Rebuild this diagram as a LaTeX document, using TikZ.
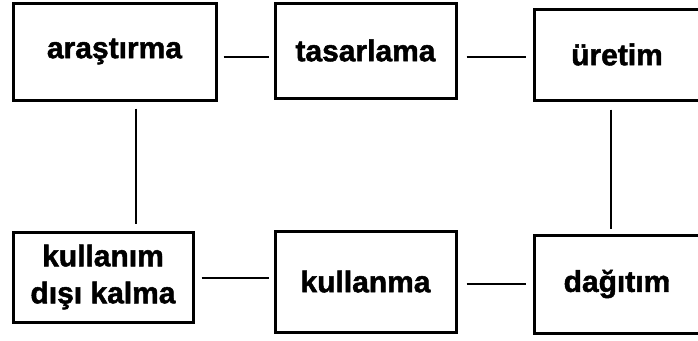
\documentclass[tikz,border=0pt]{standalone}
\usepackage{fontspec}
\setmainfont{Liberation Sans}[BoldFeatures={FakeBold=1.6}]
\begin{document}
\begin{tikzpicture}[x=1pt,y=-1pt,
  stage/.style={draw=black, line width=3pt, inner sep=0pt, align=center,
    font=\fontsize{30}{37}\selectfont\bfseries},
  link/.style={draw=black, line width=1.5pt}]
\useasboundingbox (0,0) rectangle (698,340);
% top row
\node[stage, minimum width=203pt, minimum height=97pt]  (ara) at (114.5,51.5) {araştırma};
\node[stage, minimum width=181pt, minimum height=95pt]  (tas) at (365.5,50.5) {tasarlama};
\node[stage, minimum width=166pt, minimum height=91pt]  (ure) at (617,54.5) {üretim};
% bottom row
\node[stage, minimum width=180pt, minimum height=90pt]  (kdk) at (103,277) {kullanım\\dışı kalma};
\node[stage, minimum width=181pt, minimum height=101pt] (kul) at (365.5,281.5) {kullanma};
\node[stage, minimum width=166pt, minimum height=98pt]  (dag) at (617,284) {dağıtım};
% connectors
\draw[link, shorten <=6pt, shorten >=5pt] ([yshift=-5.5pt]ara.east) -- ([yshift=-5.5pt]ara.east -| tas.west);
\draw[link, shorten <=9pt, shorten >=7pt] ([yshift=-6.5pt]tas.east) -- ([yshift=-6.5pt]tas.east -| ure.west);
\draw[link, shorten <=7pt, shorten >=7pt] ([xshift=21.5pt]ara.south) -- ([xshift=21.5pt]ara.south |- kdk.north);
\draw[link, shorten <=8pt, shorten >=5pt] ([xshift=-6pt]ure.south) -- ([xshift=-6pt]ure.south |- dag.north);
\draw[link, shorten <=7pt, shorten >=5pt] ([yshift=-1pt]kdk.east) -- ([yshift=-1pt]kdk.east -| kul.west);
\draw[link, shorten <=9pt, shorten >=7pt] ([yshift=-2.5pt]kul.east) -- ([yshift=-2.5pt]kul.east -| dag.west);
\end{tikzpicture}
\end{document}
